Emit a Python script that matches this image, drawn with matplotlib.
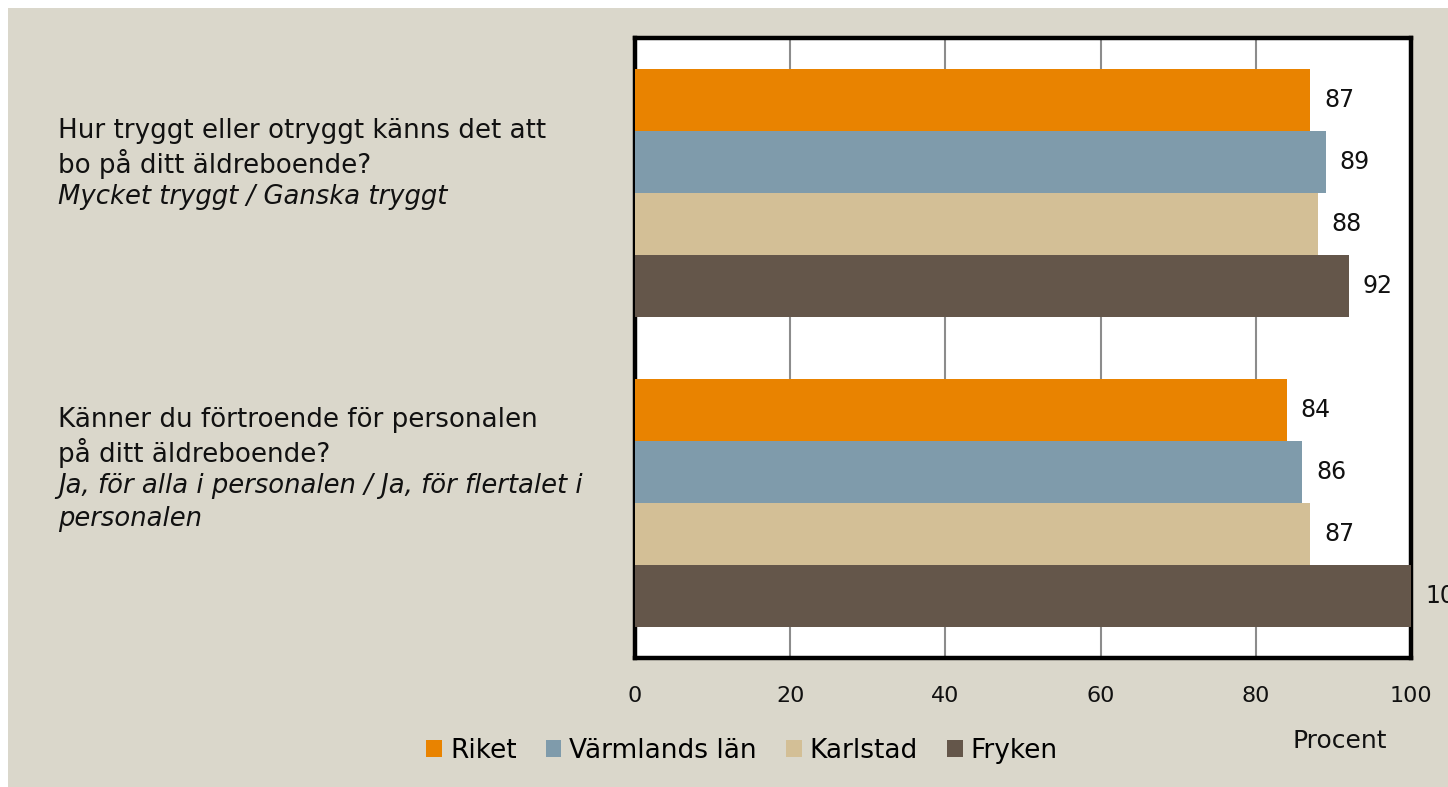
import matplotlib.pyplot as plt
from matplotlib.patches import Rectangle, Patch
import numpy as np

plt.rcParams['font.family'] = ['DejaVu Sans']

series = ['Riket', 'Värmlands län', 'Karlstad', 'Fryken']
colors = ['#E98300', '#7F9BAB', '#D3BF96', '#64564A']
# values per question, one list per series
riket = [87, 84]
varmland = [89, 86]
karlstad = [88, 87]
fryken = [92, 100]
values = [riket, varmland, karlstad, fryken]

questions = [
    ['Hur tryggt eller otryggt känns det att', 'bo på ditt äldreboende?'],
    ['Känner du förtroende för personalen', 'på ditt äldreboende?'],
]
answers = [
    ['Mycket tryggt / Ganska tryggt'],
    ['Ja, för alla i personalen / Ja, för flertalet i', 'personalen'],
]
xticks = [0, 20, 40, 60, 80, 100]

bg = '#DAD7CB'
W, H = 1448, 787
fig = plt.figure(figsize=(W / 100, H / 100), dpi=100, facecolor='white')
fig.patches.append(Rectangle((8 / W, 0), 1, 1 - 8 / H, transform=fig.transFigure,
                             facecolor=bg, edgecolor='none', zorder=-10))

ax = fig.add_axes([635 / W, 129 / H, 776 / W, 620 / H])
ax.set_facecolor('white')

bh = 0.2
group_pos = np.arange(len(questions))
for i, (name, col, vals) in enumerate(zip(series, colors, values)):
    y = group_pos - 0.3 + i * bh
    ax.barh(y, vals, height=bh, color=col, label=name, zorder=3)
    for yy, v in zip(y, vals):
        ax.text(v + 1.8, yy, str(v), va='center', ha='left', fontsize=17,
                color='#111111', clip_on=False, zorder=4)

ax.set_xlim(0, 100)
ax.set_ylim(1.5, -0.5)
ax.set_yticks([])
ax.set_xticks(xticks)
ax.set_xticklabels([str(t) for t in xticks], fontsize=16)
ax.tick_params(axis='x', length=0, pad=20, colors='#111111')
ax.grid(axis='x', color='#8c8c8c', linewidth=1.5, zorder=1)
for s in ax.spines.values():
    s.set_linewidth(3.2)
    s.set_color('black')

# left side question texts
line_h = 33
starts = [131, 420]
for q, a, y0 in zip(questions, answers, starts):
    y = y0
    for line in q:
        fig.text(58 / W, 1 - y / H, line, fontsize=18.8, va='center', ha='left', color='#111111')
        y += line_h
    for line in a:
        fig.text(58 / W, 1 - y / H, line, fontsize=18.6, va='center', ha='left',
                 style='italic', color='#111111')
        y += line_h

fig.text(1340 / W, 1 - 741 / H, 'Procent', fontsize=18, ha='center', va='center', color='#111111')

handles = [Patch(facecolor=c, edgecolor='none') for c in colors]
fig.legend(handles, series, loc='center', bbox_to_anchor=(742 / W, 1 - 751 / H), ncol=4,
           frameon=False, fontsize=19, handlelength=0.6, handleheight=0.6,
           handletextpad=0.3, columnspacing=1.1)

fig.savefig('out.png', dpi=100, facecolor=fig.get_facecolor())
